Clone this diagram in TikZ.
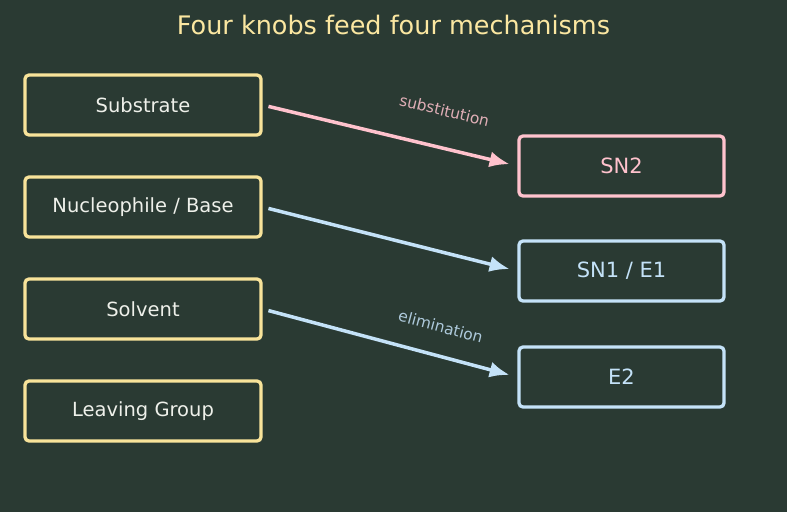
\documentclass[tikz,border=0pt]{standalone}
\usepackage{fontspec}
\setmainfont{DejaVu Sans}
\usetikzlibrary{arrows.meta}
\definecolor{bg}{HTML}{2A3A33}
\definecolor{yel}{HTML}{F8E39A}
\definecolor{ttl}{HTML}{FBE7A1}
\definecolor{pinkc}{HTML}{FFC2CD}
\definecolor{bluec}{HTML}{C4E2F8}
\definecolor{txt}{HTML}{EEF0EA}
\tikzset{
  knob/.style={draw=yel, line width=3.3pt, rounded corners=4pt, minimum width=236pt, minimum height=60pt, inner sep=0pt, text=txt, font=\fontsize{19.5}{22}\selectfont},
  mech/.style={draw=#1, line width=3.3pt, rounded corners=4pt, minimum width=205pt, minimum height=60pt, inner sep=0pt, text=#1, font=\fontsize{21}{24}\selectfont},
  conn/.style={draw=#1, line width=3.5pt, -{Latex[length=20pt,width=16pt]}, shorten <=6pt, shorten >=8pt},
  lbl/.style={font=\fontsize{15.5}{18}\selectfont, sloped, text=#1}
}
\begin{document}
\begin{tikzpicture}[x=1pt,y=-1pt]
\fill[bg] (0,0) rectangle (787,512);
\useasboundingbox (0,0) rectangle (787,512);
\node[text=ttl, font=\fontsize{25.5}{30}\selectfont] (title) at (393.5,25) {Four knobs feed four mechanisms};
\node[knob] (sub) at (143,105) {Substrate};
\node[knob] (nuc) at (143,207) {Nucleophile / Base};
\node[knob] (sol) at (143,309) {Solvent};
\node[knob] (lg) at (143,411) {Leaving Group};
\node[mech=pinkc] (sn2) at (621.5,166) {SN2};
\node[mech=bluec] (sn1) at (621.5,271) {SN1 / E1};
\node[mech=bluec] (e2) at (621.5,377) {E2};
\draw[conn=pinkc] (sub.east) -- node[lbl=pinkc!85!bg, pos=0.68, above=26pt] (l1) {substitution} (sn2.west);
\draw[conn=bluec] (nuc.east) -- (sn1.west);
\draw[conn=bluec] (sol.east) -- node[lbl=bluec!85!bg, pos=0.67, above=18pt] (l2) {elimination} (e2.west);
\end{tikzpicture}
\end{document}
